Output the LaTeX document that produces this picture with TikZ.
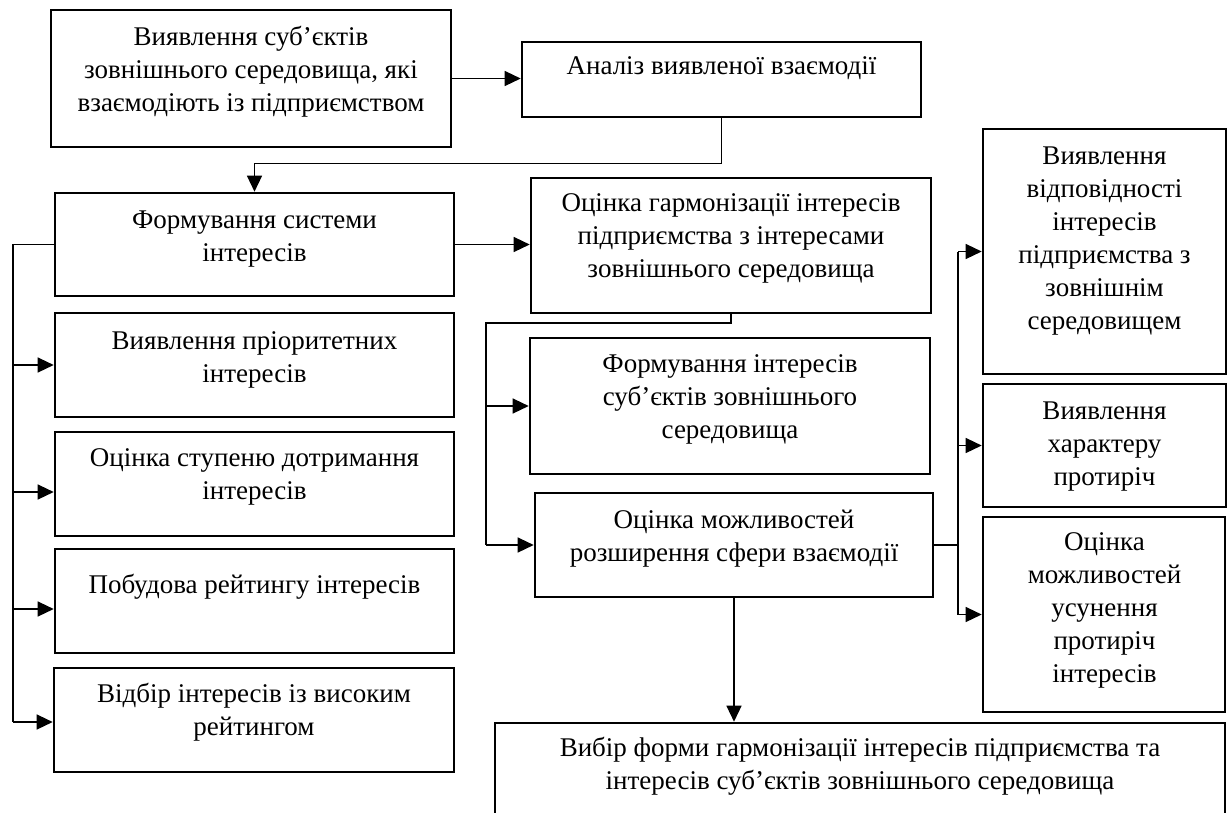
\documentclass[tikz,border=0pt]{standalone}
\usepackage{fontspec}
\setmainfont{Liberation Serif}
\usetikzlibrary{arrows.meta}
\begin{document}
\begin{tikzpicture}[x=1pt,y=-1pt,
  box/.style={draw=black,line width=2.6pt,rectangle,inner sep=0pt},
  txt/.style={align=center,inner sep=0pt,font=\fontsize{27}{33}\selectfont},
  conn/.style={line width=1.3pt,draw=black},
  arr/.style={conn,-{Triangle[length=16pt,width=15pt]}}]
\useasboundingbox (0,0) rectangle (1228,812);
% boxes
\node[box,minimum width=400pt,minimum height=137pt] (b1) at (251,78.5) {};
\node[box,minimum width=399pt,minimum height=75pt] (b2) at (721.5,79.5) {};
\node[box,minimum width=399pt,minimum height=103pt] (b3) at (254.5,244.5) {};
\node[box,minimum width=400pt,minimum height=135pt] (b4) at (731,245.5) {};
\node[box,minimum width=399pt,minimum height=104pt] (b5) at (254.5,365) {};
\node[box,minimum width=399pt,minimum height=104pt] (b6) at (254.5,484) {};
\node[box,minimum width=399pt,minimum height=104pt] (b7) at (254.5,601) {};
\node[box,minimum width=400pt,minimum height=104pt] (b8) at (254,720) {};
\node[box,minimum width=400pt,minimum height=136pt] (b9) at (730,406) {};
\node[box,minimum width=398pt,minimum height=104pt] (b10) at (734,545) {};
\node[box,minimum width=243pt,minimum height=245pt] (b11) at (1104.5,251.5) {};
\node[box,minimum width=243pt,minimum height=123pt] (b12) at (1104.5,445.5) {};
\node[box,minimum width=242pt,minimum height=195pt] (b13) at (1104,614.5) {};
\node[box,minimum width=730pt,minimum height=100pt] (b14) at (860,773) {};
% texts
\node[txt] (t1) at (251,71.5) {Виявлення суб’єктів\\зовнішнього середовища, які\\взаємодіють із підприємством};
\node[txt] (t2) at (721.5,68) {Аналіз виявленої взаємодії};
\node[txt] (t3) at (254.5,239.5) {Формування системи\\інтересів};
\node[txt] (t4) at (731,238) {Оцінка гармонізації інтересів\\підприємства з інтересами\\зовнішнього середовища};
\node[txt] (t5) at (254.5,360) {Виявлення пріоритетних\\інтересів};
\node[txt] (t6) at (254.5,477) {Оцінка ступеню дотримання\\інтересів};
\node[txt] (t7) at (254.5,587) {Побудова рейтингу інтересів};
\node[txt] (t8) at (254,712.5) {Відбір інтересів із високим\\рейтингом};
\node[txt] (t9) at (730,399) {Формування інтересів\\суб’єктів зовнішнього\\середовища};
\node[txt] (t10) at (734,538.5) {Оцінка можливостей\\розширення сфери взаємодії};
\node[txt] (t11) at (1104.5,241) {Виявлення\\відповідності\\інтересів\\підприємства з\\зовнішнім\\середовищем};
\node[txt] (t12) at (1104.5,447) {Виявлення\\характеру\\протиріч};
\node[txt] (t13) at (1104.5,610) {Оцінка\\можливостей\\усунення\\протиріч\\інтересів};
\node[txt] (t14) at (860,766.5) {Вибір форми гармонізації інтересів підприємства та\\інтересів суб’єктів зовнішнього середовища};
% coordinates of buses
\coordinate (lb1) at (13,365);
\coordinate (lb2) at (13,492);
\coordinate (lb3) at (13,609);
\coordinate (lb4) at (13,722);
\coordinate (mb) at (486,323);
\coordinate (rb) at (958,545);
% connectors
\draw[arr] (b1.east) -- (b1.east -| b2.west);
\draw[arr] (b2.south) -- ++(0,45) -| (b3.north);
\draw[arr] (b3.east) -- (b3.east -| b4.west);
\draw[conn] (b3.west) -- (b3.west -| lb4) -- (lb4);
\draw[arr] (lb1) -- (lb1 -| b5.west);
\draw[arr] (lb2) -- (lb2 -| b6.west);
\draw[arr] (lb3) -- (lb3 -| b7.west);
\draw[arr] (lb4) -- (lb4 -| b8.west);
\draw[conn] (b4.south) -- (b4.south |- mb) -- (mb) -- (mb |- b10.west);
\draw[arr] (mb |- b9.west) -- (b9.west);
\draw[arr] (mb |- b10.west) -- (b10.west);
\draw[conn] (b10.east) -- (rb);
\draw[conn] (rb |- b11.west) -- (rb |- b13.west);
\draw[arr] (rb |- b11.west) -- (b11.west);
\draw[arr] (rb |- b12.west) -- (b12.west);
\draw[arr] (rb |- b13.west) -- (b13.west);
\draw[arr] (b10.south) -- (b10.south |- b14.north);
\end{tikzpicture}
\end{document}
